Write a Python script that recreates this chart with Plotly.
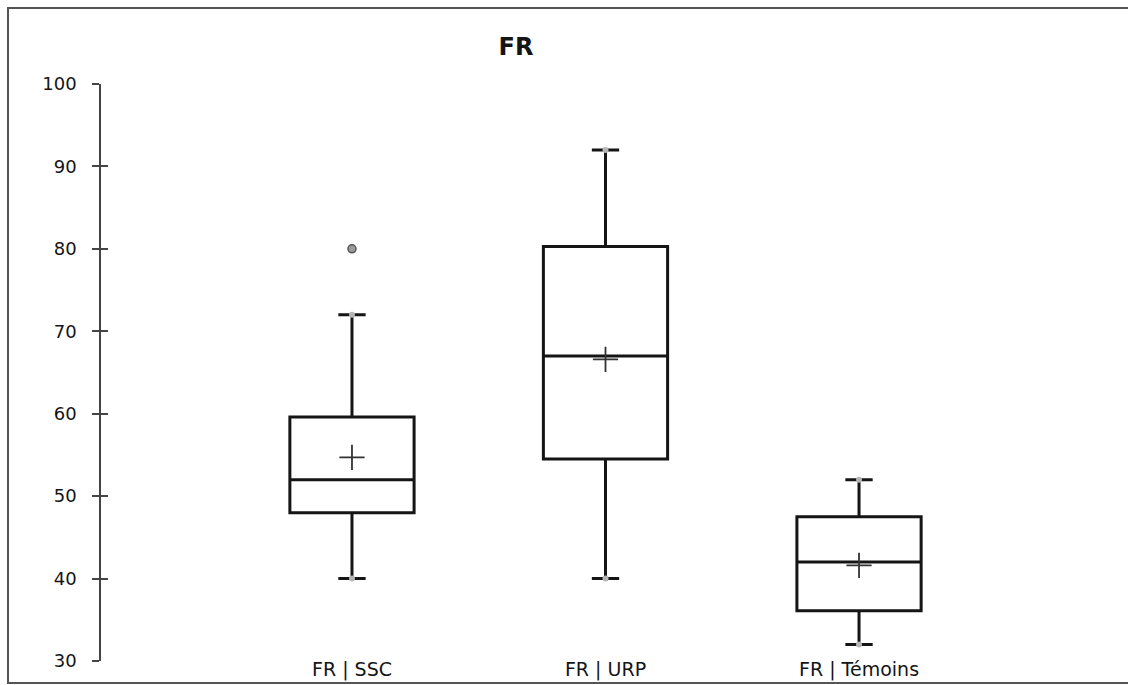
import plotly.graph_objects as go

categories = ["FR | SSC", "FR | URP", "FR | Témoins"]
lower_whisker = [40, 40, 32]
q1_vals = [48, 54.5, 36.1]
median_vals = [52, 67, 42]
q3_vals = [59.6, 80.3, 47.5]
upper_whisker = [72, 92, 52]
mean_vals = [54.7, 66.6, 41.6]
outlier_cat = [0]
outlier_vals = [80]
y_ticks = [30, 40, 50, 60, 70, 80, 90, 100]

pos = list(range(len(categories)))
FONT = "DejaVu Sans"
INK = "#151515"

fig = go.Figure()
fig.add_trace(go.Box(
    x=pos, q1=q1_vals, median=median_vals, q3=q3_vals,
    lowerfence=lower_whisker, upperfence=upper_whisker,
    boxpoints=False, fillcolor="white",
    line=dict(color=INK, width=3), whiskerwidth=0.22, width=0.49,
    showlegend=False, hoverinfo="skip",
))
# whisker end points (min / max)
fig.add_trace(go.Scatter(
    x=pos + pos, y=lower_whisker + upper_whisker, mode="markers",
    marker=dict(color="#b4b4b4", size=6), showlegend=False, hoverinfo="skip",
))
# outlier
fig.add_trace(go.Scatter(
    x=outlier_cat, y=outlier_vals, mode="markers",
    marker=dict(color="#9a9a9a", size=8, line=dict(color="#555", width=1.5)),
    showlegend=False, hoverinfo="skip",
))
# means
fig.add_trace(go.Scatter(
    x=pos, y=mean_vals, mode="markers",
    marker=dict(symbol="cross-thin", size=18, line=dict(color="#333", width=1.8)),
    showlegend=False, hoverinfo="skip",
))

fig.update_layout(
    width=1128, height=685,
    paper_bgcolor="white", plot_bgcolor="white",
    margin=dict(l=101, r=18, t=84, b=24),
    title=dict(text="<b>FR</b>", x=516 / 1128, xanchor="center",
               y=1 - 47 / 685, yanchor="middle",
               font=dict(family=FONT, size=24, color=INK)),
    xaxis=dict(range=[-0.99, 2.99], tickvals=pos, ticktext=categories,
               showgrid=False, zeroline=False, showline=False, ticks="",
               automargin=False, ticklabelstandoff=-5,
               tickfont=dict(family=FONT, size=19, color=INK)),
    yaxis=dict(range=[30, 100], tickvals=y_ticks, showgrid=False, zeroline=False,
               showline=True, linecolor="#444", linewidth=1.5,
               ticks="outside", ticklen=7, tickwidth=1.5, tickcolor="#444",
               ticklabelstandoff=12, automargin=False,
               tickfont=dict(family=FONT, size=18, color=INK)),
    yaxis2=dict(range=[30, 100], tickvals=y_ticks, overlaying="y", side="left",
                showgrid=False, zeroline=False, showline=False, showticklabels=False,
                ticks="inside", ticklen=7, tickwidth=1.5, tickcolor="#444",
                automargin=False),
    shapes=[dict(type="rect", xref="paper", yref="paper",
                 x0=(8 - 101) / 1009, x1=(1145 - 101) / 1009,
                 y0=-(683 - 661) / 577, y1=1 + (84 - 8) / 577,
                 line=dict(color="#555", width=2))],
)
# dummy trace to activate yaxis2
fig.add_trace(go.Scatter(x=[None], y=[None], yaxis="y2", showlegend=False))

fig.write_html("out.html", config={"displayModeBar": False},
               post_script="document.body.style.margin='0';")
